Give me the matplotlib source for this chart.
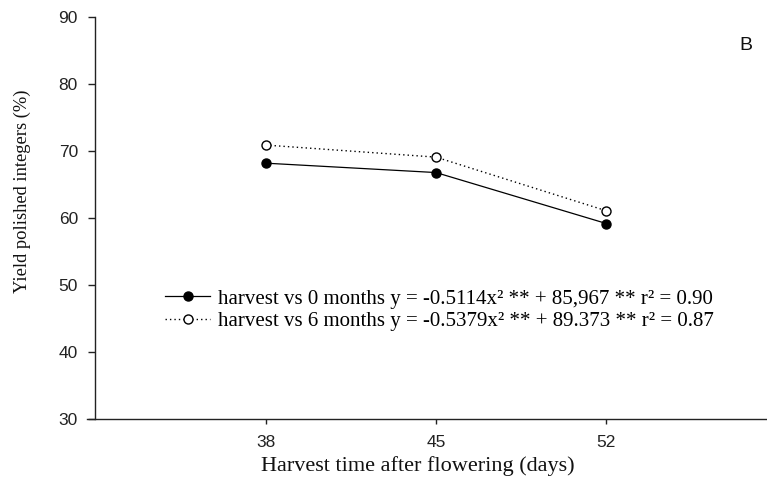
import matplotlib
matplotlib.use("Agg")
import matplotlib.pyplot as plt

days = [38, 45, 52]
harvest_0_months = [68.2, 66.8, 59.2]
harvest_6_months = [70.9, 69.1, 61.1]
label_0 = "harvest vs 0 months y = -0.5114x² ** + 85,967 ** r² = 0.90"
label_6 = "harvest vs 6 months y = -0.5379x² ** + 89.373 ** r² = 0.87"
y_ticks = [30, 40, 50, 60, 70, 80, 90]
x_ticks = [38, 45, 52]

W, H = 767, 482
fig = plt.figure(figsize=(W / 100, H / 100), dpi=100)
left_px, right_px = 87, 767
top_px, bottom_px = 17, 419.3
ax = fig.add_axes([left_px / W, 1 - bottom_px / H, (right_px - left_px) / W, (bottom_px - top_px) / H])

ax.plot(days, harvest_0_months, color="black", lw=0.9, marker="o", ms=6.5,
        mfc="black", mec="black", label=label_0)
ax.plot(days, harvest_6_months, color="black", lw=1.0, ls=(0, (1, 2.2)), marker="o", ms=6.5,
        mfc="white", mec="black", mew=1.0, label=label_6)

ax.set_xlim(30.655, 58.605)
ax.set_ylim(30, 90)
ax.set_xticks(x_ticks)
ax.set_yticks(y_ticks)

for s in ["top", "right"]:
    ax.spines[s].set_visible(False)
ax.spines["left"].set_position(("data", 30.97))
for s in ["left", "bottom"]:
    ax.spines[s].set_linewidth(1.0)
    ax.spines[s].set_color("#222222")

ax.tick_params(axis="y", direction="out", length=5, width=1.0, color="#222222", pad=7,
               labelsize=12.5, labelcolor="#222222")
ax.tick_params(axis="x", direction="out", length=3.6, width=1.0, color="#222222", pad=7.5,
               labelsize=12.5, labelcolor="#222222")
for lab in ax.get_xticklabels() + ax.get_yticklabels():
    lab.set_fontfamily("Liberation Sans")

fig.text(418 / W, 1 - 466 / H, "Harvest time after flowering (days)", ha="center", va="center",
         fontsize=16, family="Liberation Serif", color="#111111")
fig.text(22 / W, 1 - 191 / H, "Yield polished integers (%)", ha="center", va="center",
         rotation=90, fontsize=13.3, family="Liberation Serif", color="#111111")
fig.text(746 / W, 1 - 45 / H, "B", ha="center", va="center", fontsize=14,
         family="Liberation Sans", color="#111111")

leg = ax.legend(loc="upper left", bbox_to_anchor=(165 / W, 1 - 289 / H), bbox_transform=fig.transFigure,
                frameon=False, prop={"family": "Liberation Serif", "size": 15},
                handlelength=2.16, handletextpad=0.38, labelspacing=0.15, borderpad=0, borderaxespad=0)

fig.savefig("out.png", dpi=100)
